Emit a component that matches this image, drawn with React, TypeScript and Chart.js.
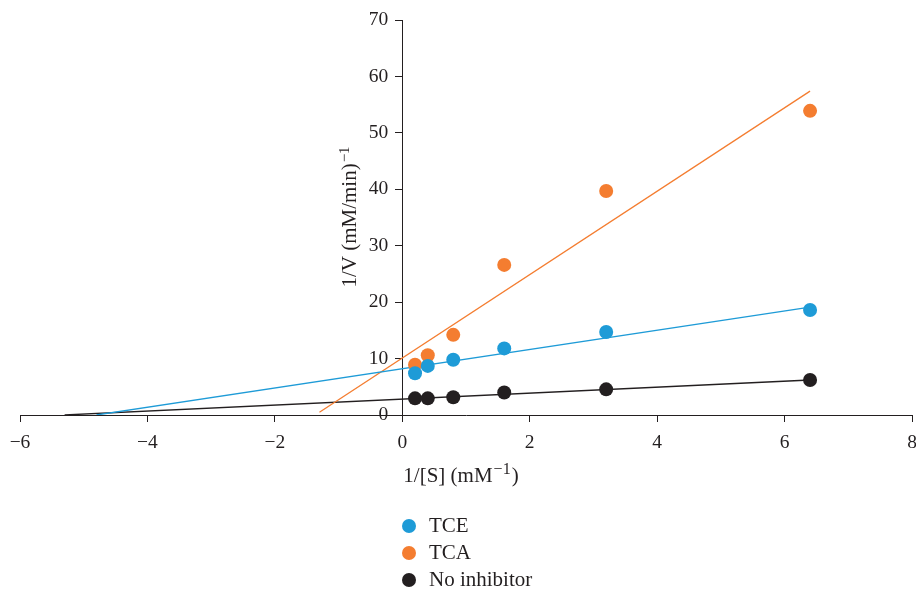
import React, { useEffect, useRef } from 'react';
import { Chart, registerables } from 'chart.js';

Chart.register(...registerables);

// ---- data ----
const xValues = [0.2, 0.4, 0.8, 1.6, 3.2, 6.4];
const tceValues = [7.4, 8.7, 9.8, 11.8, 14.7, 18.6];
const tcaValues = [8.9, 10.6, 14.2, 26.6, 39.7, 53.9];
const noInhibitorValues = [2.95, 2.95, 3.15, 4.0, 4.55, 6.2];

const tceFitX = [-4.8, 6.4];
const tceFitY = [0, 19.1];
const tcaFitX = [-1.3, 6.4];
const tcaFitY = [0.5, 57.4];
const noInhFitX = [-5.3, 6.4];
const noInhFitY = [0, 6.2];

const xTickValues = [-6, -4, -2, 0, 2, 4, 6, 8];
const yTickValues = [0, 10, 20, 30, 40, 50, 60, 70];

const seriesNames = ['TCE', 'TCA', 'No inhibitor'];
const seriesColors = ['#1E9BD7', '#F47D30', '#231F20'];

const SERIF = '"Liberation Serif", "Times New Roman", serif';
const TEXT = '#231F20';

const fmt = (v: number) => String(v).replace('-', '\u2212');

const pts = (xs: number[], ys: number[]) => xs.map((x, i) => ({ x, y: ys[i] }));

function drawSup(ctx: CanvasRenderingContext2D, main: string, sup: string, tail: string, cx: number, by: number, size: number, supSize: number, raise: number) {
  const mainFont = `${size}px ${SERIF}`;
  const supFont = `${supSize}px ${SERIF}`;
  ctx.font = mainFont;
  const w1 = ctx.measureText(main).width;
  const w3 = ctx.measureText(tail).width;
  ctx.font = supFont;
  const w2 = ctx.measureText(sup).width;
  const total = w1 + w2 + w3 + 2;
  let x = cx - total / 2;
  ctx.textAlign = 'left';
  ctx.textBaseline = 'alphabetic';
  ctx.fillStyle = TEXT;
  ctx.font = mainFont;
  ctx.fillText(main, x, by);
  x += w1 + 1;
  ctx.font = supFont;
  ctx.fillText(sup, x, by - raise);
  x += w2 + 1;
  ctx.font = mainFont;
  ctx.fillText(tail, x, by);
}

// shift y tick labels (axis placed at x = 0) to the left of the tick marks
const yLabelShiftPlugin = {
  id: 'yLabelShift',
  beforeDraw(chart: any) {
    const items = chart.scales.y.getLabelItems();
    items.forEach((it: any) => {
      if (!it._shifted) {
        it.options.translation[0] -= 14;
        it._shifted = true;
      }
    });
  },
};

const titlePlugin = {
  id: 'axisTitles',
  afterDraw(chart: any) {
    const ctx: CanvasRenderingContext2D = chart.ctx;
    const area = chart.chartArea;
    const zeroX = chart.scales.x.getPixelForValue(0);
    ctx.save();
    drawSup(ctx, '1/[S] (mM', '\u22121', ')', (area.left + area.right) / 2 - 5, area.bottom + 67, 21, 16, 8);
    ctx.restore();
    ctx.save();
    ctx.translate(zeroX - 46, (area.top + area.bottom) / 2 - 1);
    ctx.rotate(-Math.PI / 2);
    drawSup(ctx, '1/V (mM/min)', '\u22121', '', 0, 0, 21, 15, 7);
    ctx.restore();
  },
};

export default function App() {
  const ref = useRef<HTMLCanvasElement | null>(null);

  useEffect(() => {
    if (!ref.current) return;
    const tickFont = { family: SERIF, size: 19.5 };
    const chart = new Chart(ref.current, {
      type: 'scatter',
      data: {
        datasets: [
          { label: seriesNames[0], data: pts(xValues, tceValues), backgroundColor: seriesColors[0], borderWidth: 0, pointRadius: 7, order: 0 },
          { label: seriesNames[1], data: pts(xValues, tcaValues), backgroundColor: seriesColors[1], borderWidth: 0, pointRadius: 7, order: 0 },
          { label: seriesNames[2], data: pts(xValues, noInhibitorValues), backgroundColor: seriesColors[2], borderWidth: 0, pointRadius: 7, order: 0 },
          { type: 'line', label: 'tceFit', data: pts(tceFitX, tceFitY), borderColor: seriesColors[0], borderWidth: 1.3, pointRadius: 0, showLine: true, fill: false, order: 1 } as any,
          { type: 'line', label: 'tcaFit', data: pts(tcaFitX, tcaFitY), borderColor: seriesColors[1], borderWidth: 1.3, pointRadius: 0, showLine: true, fill: false, order: 1 } as any,
          { type: 'line', label: 'noInhFit', data: pts(noInhFitX, noInhFitY), borderColor: seriesColors[2], borderWidth: 1.3, pointRadius: 0, showLine: true, fill: false, order: 1 } as any,
        ],
      },
      options: {
        responsive: false,
        animation: false,
        devicePixelRatio: 1,
        layout: { autoPadding: false, padding: { left: 20, right: 4, top: 20, bottom: 136 } },
        plugins: { legend: { display: false }, tooltip: { enabled: false } },
        scales: {
          x: {
            type: 'linear',
            position: 'bottom',
            min: -6,
            max: 8,
            afterBuildTicks: (s: any) => { s.ticks = xTickValues.map((v) => ({ value: v })); },
            afterFit: (s: any) => { s.height = 40; s.paddingLeft = 0; s.paddingRight = 0; },
            grid: { display: true, drawOnChartArea: false, drawTicks: true, tickLength: 7, tickColor: TEXT, tickWidth: 1, color: TEXT },
            border: { display: true, color: TEXT, width: 1 },
            ticks: { font: tickFont, color: TEXT, padding: 9, maxRotation: 0, autoSkip: false, callback: (v: any) => fmt(v) },
          },
          y: {
            type: 'linear',
            position: { x: 0 } as any,
            min: 0,
            max: 70,
            afterBuildTicks: (s: any) => { s.ticks = yTickValues.map((v) => ({ value: v })); },
            afterFit: (s: any) => { s.paddingTop = 0; s.paddingBottom = 0; s.paddingLeft = 0; s.paddingRight = 0; },
            grid: { display: true, drawOnChartArea: false, drawTicks: true, tickLength: 7, tickColor: TEXT, tickWidth: 1, color: TEXT },
            border: { display: true, color: TEXT, width: 1 },
            ticks: { font: tickFont, color: TEXT, padding: 8, autoSkip: false, callback: (v: any) => fmt(v) },
          },
        },
      },
      plugins: [yLabelShiftPlugin, titlePlugin],
    });
    return () => chart.destroy();
  }, []);

  return (
    <div style={{ position: 'absolute', left: 0, top: 0, width: 916, height: 591, background: '#fff' }}>
      <canvas ref={ref} width={916} height={591} style={{ position: 'absolute', left: 0, top: 0 }} />
      <div style={{ position: 'absolute', left: 402, top: 512, fontFamily: SERIF, fontSize: 21, color: TEXT }}>
        {seriesNames.map((name, i) => (
          <div key={name} style={{ display: 'flex', alignItems: 'center', height: 27 }}>
            <span style={{ display: 'inline-block', width: 14, height: 14, borderRadius: '50%', background: seriesColors[i], marginRight: 13 }} />
            <span style={{ lineHeight: '27px' }}>{name}</span>
          </div>
        ))}
      </div>
    </div>
  );
}
